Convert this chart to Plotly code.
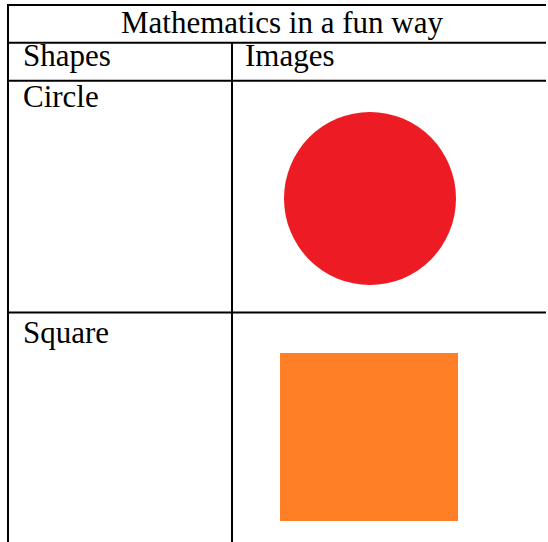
import plotly.graph_objects as go

# table content
title_text = "Mathematics in a fun way"
column_headers = ["Shapes", "Images"]
shape_names = ["Circle", "Square"]
shape_colors = ["#ED1C24", "#FF7F27"]

W, H = 548, 542
FONT = dict(family="Liberation Serif, Times New Roman, serif", size=31, color="black")

# table geometry in pixels (y grows downward); the right edge is off the page
col_edges = [8, 232]
row_edges = [5, 42.7, 80.7, 312.5]
# top of the text box in each row (title, header, circle, square)
text_tops = [4, 37, 78, 314]

fig = go.Figure()

rule = dict(color="black", width=2)
shapes = []
# horizontal rules run (almost) to the right edge of the page
for y in row_edges:
    shapes.append(dict(type="line", x0=col_edges[0] - 1, x1=W - 2, y0=y, y1=y, line=rule))
# vertical rules (the middle one starts below the title row)
shapes.append(dict(type="line", x0=col_edges[0], x1=col_edges[0], y0=row_edges[0], y1=H, line=rule))
shapes.append(dict(type="line", x0=col_edges[1], x1=col_edges[1], y0=row_edges[1], y1=H, line=rule))

# pictures in the "Images" column
shapes.append(dict(type="circle", x0=284, x1=456, y0=112, y1=285,
                   fillcolor=shape_colors[0], line=dict(color=shape_colors[0], width=0)))
shapes.append(dict(type="rect", x0=280, x1=458, y0=353, y1=521,
                   fillcolor=shape_colors[1], line=dict(color=shape_colors[1], width=0)))

annotations = [
    dict(text=title_text, x=281.5, y=text_tops[0], xanchor="center"),
    dict(text=column_headers[0], x=col_edges[0] + 14, y=text_tops[1], xanchor="left"),
    dict(text=column_headers[1], x=col_edges[1] + 12, y=text_tops[1], xanchor="left"),
    dict(text=shape_names[0], x=col_edges[0] + 14, y=text_tops[2], xanchor="left"),
    dict(text=shape_names[1], x=col_edges[0] + 14, y=text_tops[3], xanchor="left"),
]
for a in annotations:
    a.update(xref="x", yref="y", yanchor="top", showarrow=False, font=FONT, borderpad=0)

fig.update_layout(
    width=W,
    height=H,
    margin=dict(l=0, r=0, t=0, b=0),
    paper_bgcolor="white",
    plot_bgcolor="white",
    shapes=shapes,
    annotations=annotations,
    showlegend=False,
)
fig.update_xaxes(range=[0, W], visible=False, fixedrange=True)
fig.update_yaxes(range=[H, 0], visible=False, fixedrange=True)

fig.write_html(
    "out.html",
    config={"displayModeBar": False},
    post_script=(
        "document.body.style.margin='0';"
        "document.body.style.overflow='hidden';"
        "document.documentElement.style.overflow='hidden';"
    ),
)
